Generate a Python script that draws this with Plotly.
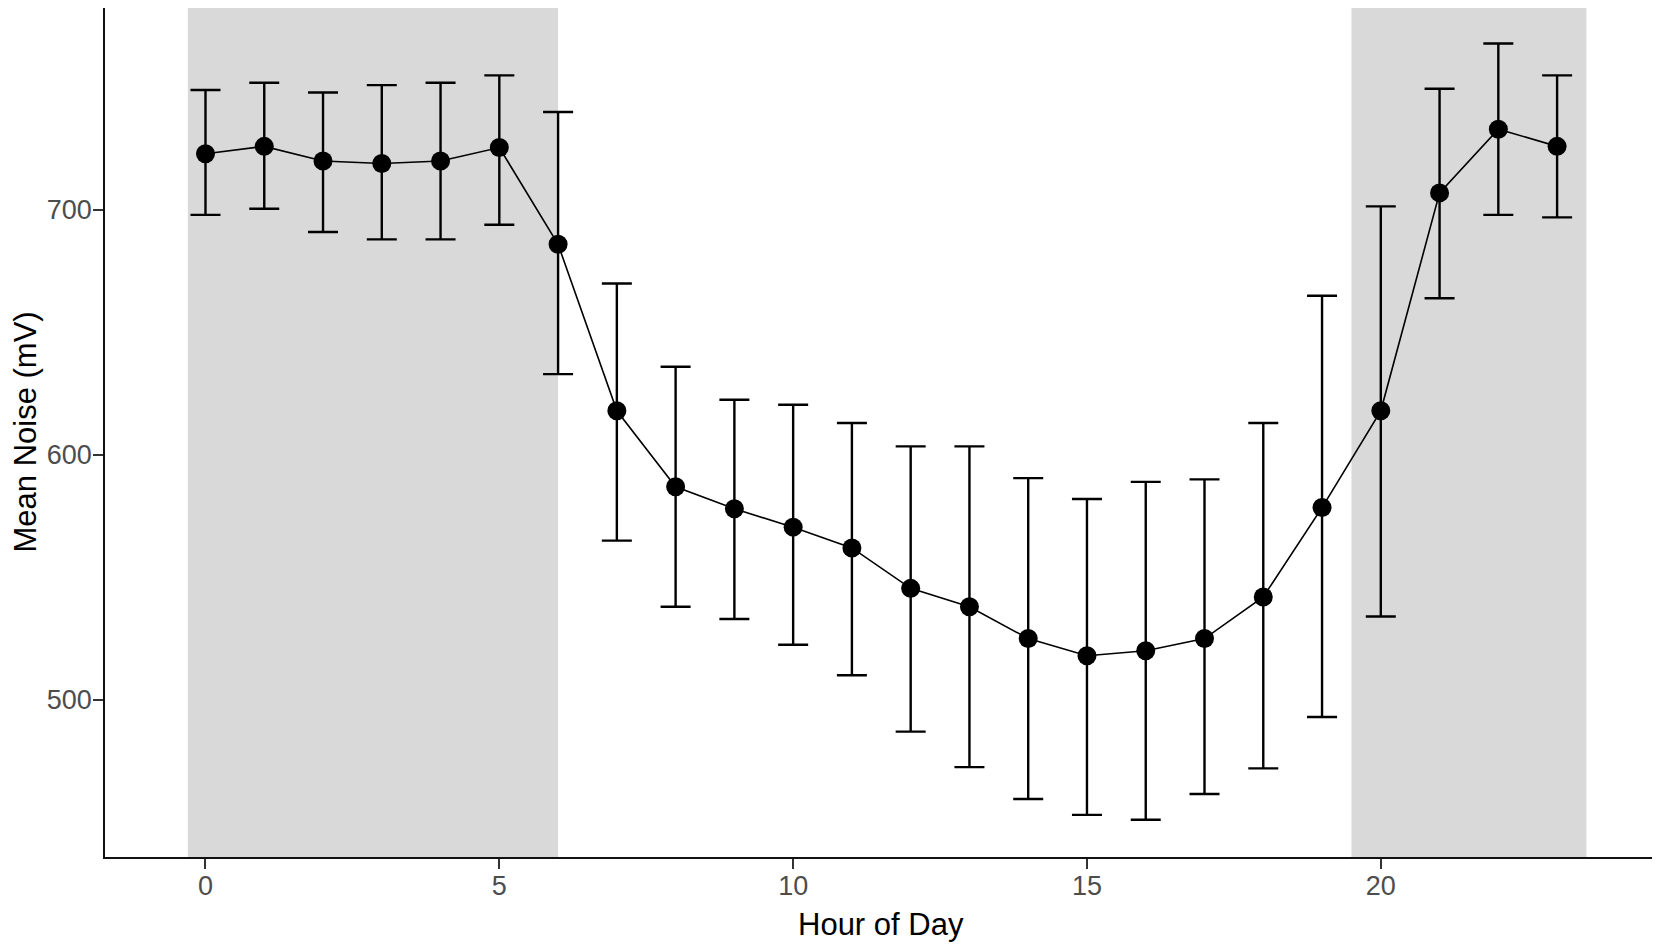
import plotly.graph_objects as go

# hourly mean noise with error bar ends
hours = list(range(24))
mean_noise = [723, 726, 720, 719, 720, 725.5, 686, 618, 587, 578, 570.5, 562,
              545.5, 538, 525, 518, 520, 525, 542, 578.5, 618, 707, 733, 726]
upper = [749, 752, 748, 751, 752, 755, 740, 670, 636, 622.5, 620.5, 613,
         603.5, 603.5, 590.5, 582, 589, 590, 613, 665, 701.5, 749.5, 768, 755]
lower = [698, 700.5, 691, 688, 688, 694, 633, 565, 538, 533, 522.5, 510,
         487, 472.5, 459.5, 453, 451, 461.5, 472, 493, 534, 664, 698, 697]
night_bands = [(-0.3, 6), (19.5, 23.5)]  # shaded dark hours

err_plus = [u - m for u, m in zip(upper, mean_noise)]
err_minus = [m - l for m, l in zip(mean_noise, lower)]

fig = go.Figure()

for x0, x1 in night_bands:
    fig.add_shape(type='rect', xref='x', yref='paper', x0=x0, x1=x1, y0=0, y1=1,
                  fillcolor='#D9D9D9', line=dict(width=0), layer='below')

fig.add_trace(go.Scatter(
    x=hours, y=mean_noise, mode='lines+markers',
    line=dict(color='black', width=1.6),
    marker=dict(color='black', size=19),
    error_y=dict(type='data', symmetric=False, array=err_plus, arrayminus=err_minus,
                 color='black', thickness=2.4, width=15),
    showlegend=False,
))

axis_font = dict(family='Liberation Sans, Arial, sans-serif', size=27, color='#4D4D4D')
title_font = dict(family='Liberation Sans, Arial, sans-serif', size=31, color='black')

# axis titles as annotations so they sit exactly where the reference has them
fig.add_annotation(text='Hour of Day', xref='paper', yref='paper', x=0.5, y=0,
                   xanchor='center', yanchor='middle', yshift=-67, showarrow=False, font=title_font)
fig.add_annotation(text='Mean Noise (mV)', xref='paper', yref='paper', x=0, y=0.5,
                   xanchor='center', yanchor='middle', xshift=-80, textangle=-90,
                   showarrow=False, font=title_font)

# page has an 8px body margin, so the figure is sized to fit inside the window
fig.update_layout(
    width=1652, height=937,
    margin=dict(l=97, r=3, t=0, b=88),
    plot_bgcolor='white', paper_bgcolor='white',
    xaxis=dict(
        range=[-1.71, 24.7], tickvals=[0, 5, 10, 15, 20], showgrid=False, zeroline=False,
        showline=True, linecolor='#111111', linewidth=1.6,
        ticks='outside', ticklen=10, tickwidth=1.6, tickcolor='#333333',
        ticklabelstandoff=-6, tickfont=axis_font,
    ),
    yaxis=dict(
        range=[435.8, 782.5], tickvals=[500, 600, 700], showgrid=False, zeroline=False,
        showline=True, linecolor='#111111', linewidth=1.6,
        ticks='outside', ticklen=10, tickwidth=1.6, tickcolor='#333333',
        ticklabelstandoff=-4, tickfont=axis_font,
    ),
)

fig.write_html("out.html")
